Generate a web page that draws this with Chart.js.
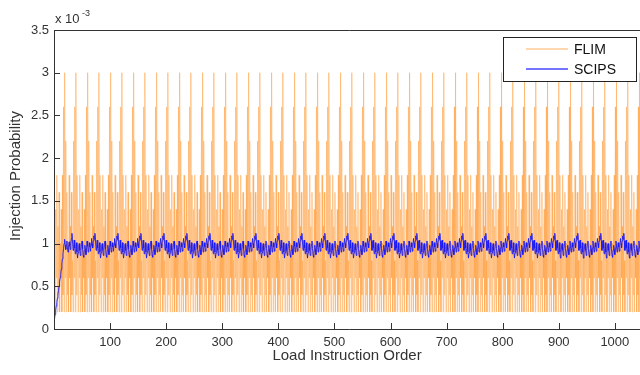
<!DOCTYPE html>
<html>
<head>
<meta charset="utf-8">
<script src="https://cdn.jsdelivr.net/npm/chart.js@4.4.0/dist/chart.umd.min.js"></script>
<style>
  html, body { margin: 0; padding: 0; background: #fff; overflow: hidden; }
  #wrap { width: 644px; height: 375px; }
</style>
</head>
<body>
<div id="wrap"><canvas id="chart" width="644" height="375"></canvas></div>
<script>
// values are in units of 1e-3 (axis shows "x 10^-3")
const xTicks = [100, 200, 300, 400, 500, 600, 700, 800, 900, 1000];
const yTicks = [0, 0.5, 1, 1.5, 2, 2.5, 3, 3.5];
const seriesNames = ['FLIM', 'SCIPS'];
const nPoints = 1052;

// one period of the FLIM pattern (repeats every ~41 loads)
const flimCycle = [1.0, 0.2, 1.4, 0.6, 1.8, 0.2, 1.2, 0.4, 1.6, 0.2, 1.0, 0.6, 1.4, 0.2, 1.8, 0.4, 2.6, 0.2, 3.0, 0.6, 2.2,
                   0.2, 1.6, 0.4, 1.0, 0.2, 1.8, 0.6, 1.2, 0.2, 1.6, 0.4, 0.8, 0.2, 2.2, 0.6, 2.6, 0.2, 3.0, 0.4, 1.8];

// SCIPS: warm-up ramp then a periodic ripple around 0.95
const scipsStart = [0.12, 0.17, 0.22, 0.27, 0.31, 0.36, 0.41, 0.45, 0.5, 0.55, 0.6, 0.64, 0.7, 0.76, 0.82, 0.88, 0.94, 1.0, 1.05,
                    0.98, 0.93, 0.99, 1.03, 0.95, 0.9, 0.96, 1.02, 0.97, 0.93, 1.0, 1.06];
const scipsCycle = [1.12, 1.03, 0.92, 0.97, 1.04, 0.95, 0.88, 0.94, 1.01, 0.9, 0.83, 0.89, 0.97, 1.0, 0.92, 0.86, 0.92, 0.99, 1.03, 0.94,
                    0.86, 0.84, 0.92, 0.98, 0.93, 0.87, 0.95, 1.03, 0.97, 0.9, 0.95, 1.01, 0.96, 0.91, 0.98, 1.06, 1.0, 0.95, 1.03, 1.09, 1.05];

const flimColor = 'rgb(255,165,75)';
const scipsColor = 'rgb(25,25,245)';
const fontFam = '"Liberation Sans", Arial, sans-serif';

const flim = [];
const scips = [];
for (let i = 0; i < nPoints; i++) {
  flim.push({ x: i + 1, y: flimCycle[i % flimCycle.length] });
  const v = i < scipsStart.length ? scipsStart[i] : scipsCycle[(i - scipsStart.length) % scipsCycle.length];
  scips.push({ x: i + 1, y: v });
}

// matlab-ish frame, inward ticks, exponent label, axis titles and legend box
const matlabFrame = {
  id: 'matlabFrame',
  afterDraw(chart) {
    const { ctx, chartArea: a, scales } = chart;
    ctx.save();
    ctx.strokeStyle = '#333';
    ctx.lineWidth = 1;
    ctx.beginPath();
    ctx.moveTo(a.right + 2, Math.round(a.top) + 0.5);
    ctx.lineTo(Math.round(a.left) + 0.5, Math.round(a.top) + 0.5);
    ctx.lineTo(Math.round(a.left) + 0.5, Math.round(a.bottom) + 0.5);
    ctx.lineTo(a.right + 2, Math.round(a.bottom) + 0.5);
    xTicks.forEach(v => {
      const px = Math.round(scales.x.getPixelForValue(v)) + 0.5;
      ctx.moveTo(px, a.bottom);
      ctx.lineTo(px, a.bottom - 6);
    });
    yTicks.forEach(v => {
      const py = Math.round(scales.y.getPixelForValue(v)) + 0.5;
      ctx.moveTo(a.left, py);
      ctx.lineTo(a.left + 6, py);
    });
    ctx.stroke();

    ctx.fillStyle = '#333';
    ctx.textBaseline = 'alphabetic';
    ctx.textAlign = 'left';
    ctx.font = '13px ' + fontFam;
    ctx.fillText('x 10', a.left + 1, 23);
    ctx.font = '9px ' + fontFam;
    ctx.fillText('-3', a.left + 28, 16);

    ctx.font = '15px ' + fontFam;
    ctx.textAlign = 'center';
    ctx.fillText('Load Instruction Order', 347, 360);
    ctx.save();
    ctx.translate(20, 176);
    ctx.rotate(-Math.PI / 2);
    ctx.fillText('Injection Probability', 0, 0);
    ctx.restore();

    // legend
    const lx = 503, ly = 37, lw = 133, lh = 44;
    ctx.fillStyle = '#fff';
    ctx.fillRect(lx, ly, lw, lh);
    ctx.strokeStyle = '#222';
    ctx.strokeRect(lx + 0.5, ly + 0.5, lw, lh);
    const rows = [[seriesNames[0], 'rgb(255,200,150)', 49], [seriesNames[1], 'rgb(70,70,255)', 69]];
    ctx.font = '14px ' + fontFam;
    ctx.textAlign = 'left';
    ctx.textBaseline = 'middle';
    rows.forEach(([name, col, y]) => {
      ctx.strokeStyle = col;
      ctx.lineWidth = 1.5;
      ctx.beginPath();
      ctx.moveTo(526, y);
      ctx.lineTo(568, y);
      ctx.stroke();
      ctx.fillStyle = '#111';
      ctx.fillText(name, 574, y + 1);
    });
    ctx.restore();
  }
};

new Chart(document.getElementById('chart'), {
  type: 'line',
  data: {
    datasets: [
      { label: seriesNames[1], data: scips, borderColor: scipsColor, borderWidth: 0.9, pointRadius: 0, order: 0 },
      { label: seriesNames[0], data: flim, borderColor: flimColor, borderWidth: 0.55, pointRadius: 0, order: 1 }
    ]
  },
  options: {
    responsive: false,
    animation: false,
    events: [],
    layout: { padding: { top: 30, left: 0, right: 0, bottom: 0 } },
    plugins: { legend: { display: false }, tooltip: { enabled: false } },
    scales: {
      x: {
        type: 'linear', min: 0, max: nPoints,
        grid: { display: false, drawTicks: false },
        border: { display: false },
        afterBuildTicks: s => { s.ticks = xTicks.map(v => ({ value: v })); },
        afterFit: s => { s.height = 46; },
        ticks: { padding: 6, color: '#333', font: { family: fontFam, size: 13 }, maxRotation: 0, autoSkip: false,
                 callback: v => String(v) }
      },
      y: {
        min: 0, max: 3.5,
        grid: { display: false, drawTicks: false },
        border: { display: false },
        afterBuildTicks: s => { s.ticks = yTicks.map(v => ({ value: v })); },
        afterFit: s => { s.width = 54; },
        ticks: { padding: 5, color: '#333', font: { family: fontFam, size: 13 }, callback: v => String(v) }
      }
    }
  },
  plugins: [matlabFrame]
});
</script>
</body>
</html>
